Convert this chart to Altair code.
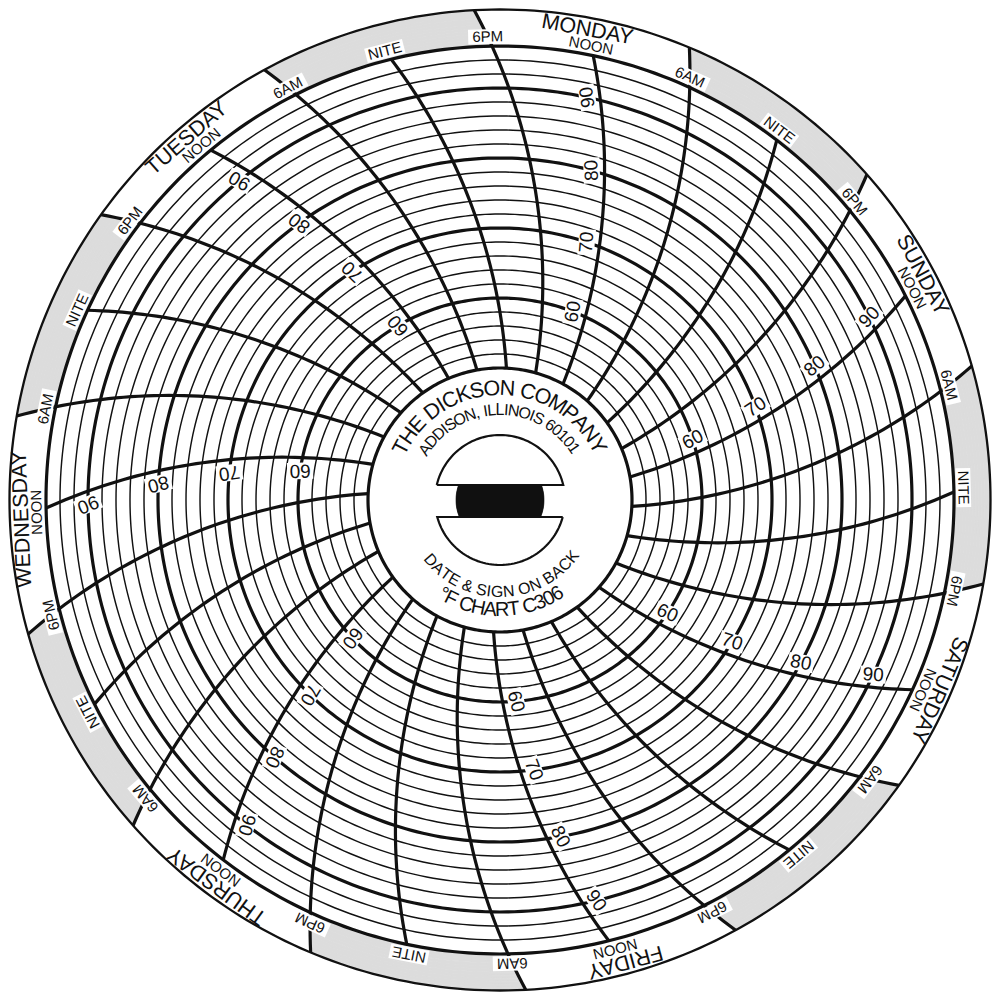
import math
import altair as alt
import pandas as pd

# ---------------- chart content ----------------
DAYS = ["MONDAY", "TUESDAY", "WEDNESDAY", "THURSDAY", "FRIDAY", "SATURDAY", "SUNDAY"]
TIME_MARKS = ["NOON", "6PM", "NITE", "6AM"]
TIME_MARK_HOURS = [0, 6, 12, 18]          # hours after each day's noon
NIGHT_HOURS = [6, 18]                     # shaded outer band: 6PM -> 6AM
TEMP_GRID = [50, 52, 54, 56, 58, 60, 62, 64, 66, 68, 70, 72, 74, 76, 78,
             80, 82, 84, 86, 88, 90, 92, 94, 96]
TEMP_MAJOR = [50, 60, 70, 80, 90, 96]
TEMP_LABELS = [60, 70, 80, 90]
HUB_TOP = ["THE DICKSON COMPANY", "ADDISON, ILLINOIS 60101"]
HUB_BOTTOM = ["DATE & SIGN ON BACK", "°F CHART C306"]

# ---------------- layout (geometry / style) ----------------
HALF = 492
R_HUB = 132.0
PX_PER_DEG = 7.0
R_OUT = 490.5
ARM = 575.0            # pen-arm radius of the time arcs
THETA0 = 35.1          # direction of Monday NOON arc at the centre
DEG_PER_HOUR = 360.0 / 168.0
INK = "#111111"
GRAY = "#dcdcdc"
FONT = "Liberation Sans"

EM = {"A": .667, "B": .667, "C": .722, "D": .722, "E": .667, "F": .611, "G": .778,
      "H": .722, "I": .278, "K": .667, "L": .556, "M": .833, "N": .722, "O": .778,
      "P": .667, "R": .722, "S": .667, "T": .611, "Y": .667, " ": .278, ",": .278,
      "&": .667, "°": .4}


def radius(t):
    return R_HUB + (t - TEMP_GRID[0]) * PX_PER_DEG


R_BAND = radius(TEMP_GRID[-1])


def arm_tilt(r):
    return math.degrees(math.asin(r / (2 * ARM)))


def theta(hour, r):
    return THETA0 - hour * DEG_PER_HOUR - arm_tilt(r)


def polar(r, th):
    a = math.radians(th)
    return r * math.sin(a), r * math.cos(a)


# concentric temperature circles
circ = []
for t in TEMP_GRID:
    r = radius(t)
    kind = "major" if t in TEMP_MAJOR else "minor"
    for i in range(361):
        x, y = polar(r, i)
        circ.append({"id": f"T{t}", "i": i, "x": x, "y": y, "kind": kind})
for i in range(361):
    x, y = polar(R_OUT, i)
    circ.append({"id": "outer", "i": i, "x": x, "y": y, "kind": "outer"})
circ = pd.DataFrame(circ)

# time arcs
tl = []
for d, day in enumerate(DAYS):
    for name, hh in zip(TIME_MARKS, TIME_MARK_HOURS):
        h = 24 * d + hh
        r_end = R_OUT if hh in NIGHT_HOURS else R_BAND
        for j in range(51):
            r = R_HUB + (r_end - R_HUB) * j / 50
            x, y = polar(r, theta(h, r))
            tl.append({"id": f"{day}-{name}", "i": j, "x": x, "y": y})
tl = pd.DataFrame(tl)

# shaded night segments in the outer band
band = []
NSUB = 12
for d in range(len(DAYS)):
    for j in range(NSUB):
        ra = R_BAND + (R_OUT - R_BAND) * j / NSUB
        rb = R_BAND + (R_OUT - R_BAND) * (j + 1) / NSUB
        rm = (ra + rb) / 2
        band.append({"t1": theta(24 * d + NIGHT_HOURS[1], rm),
                     "t2": theta(24 * d + NIGHT_HOURS[0], rm),
                     "r1": ra, "r2": rb})
band = pd.DataFrame(band)

# outer band texts
lab = []
for d, day in enumerate(DAYS):
    h = 24 * d
    r = 478
    th = theta(h, r)
    x, y = polar(r, th)
    lab.append({"x": x, "y": y, "txt": day, "ang": th % 360, "fs": 21.5, "box": 0})
    for name, hh in zip(TIME_MARKS, TIME_MARK_HOURS):
        r = 463.5
        th = theta(h + hh, r)
        x, y = polar(r, th)
        lab.append({"x": x, "y": y, "txt": name, "ang": th % 360,
                    "fs": 15, "box": 0 if name == "NOON" else 1})
lab = pd.DataFrame(lab)

# temperature labels beside each NOON arc
tlab = []
for d in range(len(DAYS)):
    for t in TEMP_LABELS:
        r = radius(t)
        th = theta(24 * d, r) - math.degrees(13.5 / r)
        x, y = polar(r, th)
        tlab.append({"x": x, "y": y, "txt": str(t),
                     "ang": (th - arm_tilt(r) - 90) % 360})
tlab = pd.DataFrame(tlab)


# curved hub texts
def arc_text(s, r, th_first, th_last, fs, bottom):
    widths = [EM.get(c, .556) for c in s]
    centers, acc = [], 0.0
    for w in widths:
        centers.append(acc + w / 2)
        acc += w
    c0, c1 = centers[0], centers[-1]
    out = []
    for ch, c in zip(s, centers):
        if ch == " ":
            continue
        th = th_first + (c - c0) / (c1 - c0) * (th_last - th_first)
        x, y = polar(r, th)
        ang = (th - 180) % 360 if bottom else th % 360
        out.append({"x": x, "y": y, "txt": ch, "ang": ang, "fs": fs})
    return out


hub = []
hub += arc_text(HUB_TOP[0], 111, -62, 61, 21.5, False)
hub += arc_text(HUB_TOP[1], 90, -56, 55, 16, False)
hub += arc_text(HUB_BOTTOM[0], 92, 229, 128, 16, True)
hub += arc_text(HUB_BOTTOM[1], 110, 211, 148.5, 20, True)
hub = pd.DataFrame(hub)

# hub emblem: two white caps and a dark bar
CAP_R, CAP_TOP, CAP_BOT, BAR_R = 65.0, 15.0, -17.0, 44.0
caps = []
a = math.degrees(math.acos(CAP_TOP / CAP_R))
pts = [polar(CAP_R, -a + 2 * a * k / 60) for k in range(61)]
pts.append(pts[0])
caps += [{"id": "top", "i": k, "x": p[0], "y": p[1]} for k, p in enumerate(pts)]
b = math.degrees(math.acos(-CAP_BOT / CAP_R))
pts = [polar(CAP_R, 180 - b + 2 * b * k / 60) for k in range(61)]
pts.append(pts[0])
caps += [{"id": "bot", "i": k, "x": p[0], "y": p[1]} for k, p in enumerate(pts)]
caps = pd.DataFrame(caps)

bar = []
yv = CAP_BOT
while yv < CAP_TOP:
    ym = yv + 0.5
    hw = math.sqrt(BAR_R ** 2 - ym ** 2)
    bar.append({"x": -hw, "x2": hw, "y": yv, "y2": yv + 1})
    yv += 1
bar = pd.DataFrame(bar)

# ---------------- chart ----------------
XS = alt.Scale(domain=[-HALF, HALF], nice=False, zero=False)
YS = alt.Scale(domain=[-HALF, HALF], nice=False, zero=False)
X = alt.X("x:Q", scale=XS, axis=None)
Y = alt.Y("y:Q", scale=YS, axis=None)

band_layer = alt.Chart(band).mark_arc(fill=GRAY, stroke=GRAY, strokeWidth=0.8).encode(
    theta=alt.Theta("t1:Q", scale=alt.Scale(domain=[0, 360], range=[0, 2 * math.pi]), stack=False),
    theta2="t2:Q",
    radius=alt.Radius("r1:Q", scale=alt.Scale(type="linear", domain=[0, HALF], range=[0, HALF], zero=True)),
    radius2="r2:Q",
)


def lines(df, width):
    return alt.Chart(df).mark_line(color=INK, strokeWidth=width).encode(
        X, Y, detail="id:N", order="i:Q")


minor = lines(circ[circ.kind == "minor"], 1.45)
major = lines(circ[circ.kind == "major"], 3.2)
outer = lines(circ[circ.kind == "outer"], 2.3)
timel = lines(tl, 3.2)

box_small = alt.Chart(lab[lab.box == 1]).mark_point(
    shape="M-1.95,-0.74L1.95,-0.74L1.95,0.74L-1.95,0.74Z", size=400, filled=True,
    color="white", opacity=1, strokeWidth=0).encode(X, Y, angle=alt.Angle("ang:Q", scale=None))
box_temp = alt.Chart(tlab).mark_point(
    shape="M-1.3,-0.82L1.3,-0.82L1.3,0.82L-1.3,0.82Z", size=400, filled=True,
    color="white", opacity=1, strokeWidth=0).encode(X, Y, angle=alt.Angle("ang:Q", scale=None))

band_text = alt.Chart(lab).mark_text(font=FONT, color=INK, align="center", baseline="middle").encode(
    X, Y, text="txt:N", angle=alt.Angle("ang:Q", scale=None), size=alt.Size("fs:Q", scale=None))
temp_text = alt.Chart(tlab).mark_text(font=FONT, color=INK, align="center", baseline="middle",
                                      fontSize=19).encode(
    X, Y, text="txt:N", angle=alt.Angle("ang:Q", scale=None))
hub_text = alt.Chart(hub).mark_text(font=FONT, color=INK, align="center", baseline="middle").encode(
    X, Y, text="txt:N", angle=alt.Angle("ang:Q", scale=None), size=alt.Size("fs:Q", scale=None))

cap_lines = lines(caps, 2.2)
bar_layer = alt.Chart(bar).mark_rect(color=INK, stroke=INK, strokeWidth=0.6).encode(
    x=alt.X("x:Q", scale=XS, axis=None), x2="x2:Q",
    y=alt.Y("y:Q", scale=YS, axis=None), y2="y2:Q")

chart = alt.layer(
    band_layer, minor, major, outer, timel,
    box_small, box_temp, band_text, temp_text, hub_text, cap_lines, bar_layer,
).properties(
    width=984, height=984, padding=0, background="white",
    autosize=alt.AutoSizeParams(type="none"),
).configure_view(strokeWidth=0)

chart.save("out.html", embed_options={"renderer": "svg", "actions": False})
